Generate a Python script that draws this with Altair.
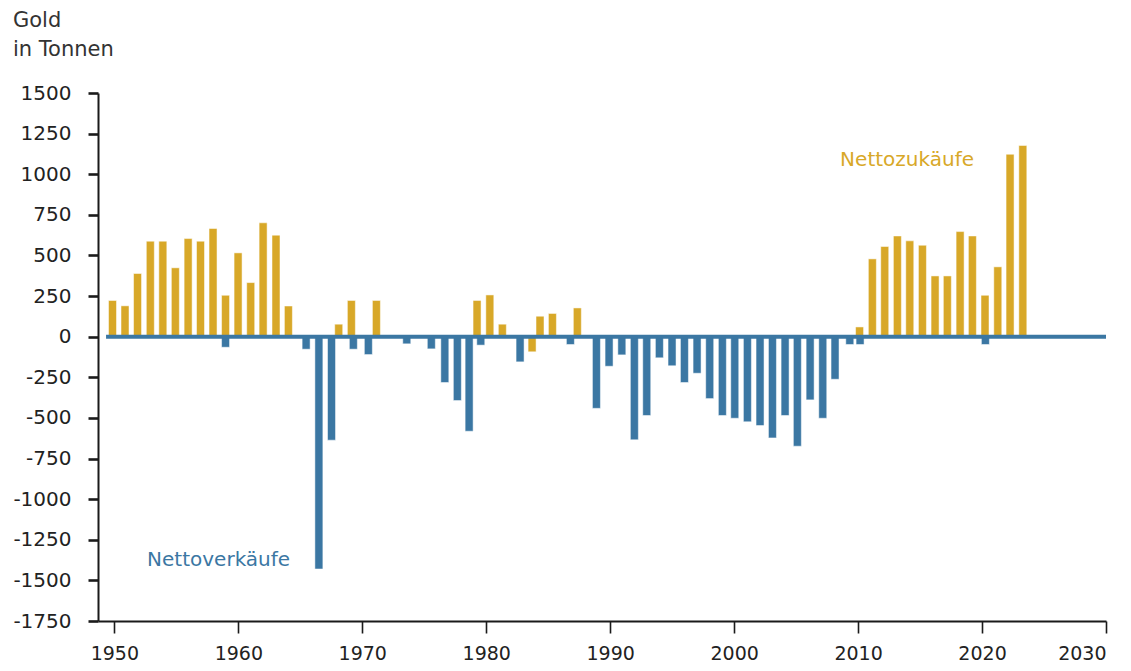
import altair as alt
import pandas as pd

# Positions in decimal years, values in tonnes
gold_t = [1949.85, 1950.86, 1951.87, 1952.90, 1953.91, 1954.92, 1955.95, 1956.95, 1957.96,
          1958.97, 1959.98, 1961.00, 1962.00, 1963.04, 1964.04, 1968.10, 1969.12, 1971.14,
          1979.26, 1980.29, 1981.30, 1983.70, 1984.34, 1985.34, 1987.35, 2010.12, 2011.15,
          2012.15, 2013.17, 2014.17, 2015.19, 2016.21, 2017.20, 2018.23, 2019.22, 2020.24,
          2021.27, 2022.26, 2023.29]
gold_v = [223, 190, 389, 588, 588, 424, 604, 588, 666, 255, 516, 333, 701, 625, 189,
          77, 223, 223, 223, 257, 77, -93, 126, 143, 177, 60, 479, 555, 620, 590, 563,
          374, 374, 647, 620, 255, 430, 1123, 1177]

blue_t = [1958.97, 1965.47, 1966.50, 1967.52, 1969.28, 1970.49, 1973.59, 1975.57, 1976.66,
          1977.67, 1978.62, 1979.56, 1982.73, 1986.79, 1988.89, 1989.91, 1990.94, 1991.95,
          1992.95, 1993.97, 1994.99, 1995.99, 1997.01, 1998.03, 1999.05, 2000.05, 2001.07,
          2002.09, 2003.09, 2004.11, 2005.10, 2006.13, 2007.15, 2008.14, 2009.33, 2010.16,
          2020.27]
blue_v = [-65, -77, -1430, -637, -77, -110, -44, -75, -282, -393, -582, -52, -155, -48,
          -441, -182, -112, -635, -485, -130, -179, -282, -225, -381, -485, -502, -524,
          -547, -623, -485, -674, -389, -502, -262, -48, -48, -48]

x_ticks = [1950, 1960, 1970, 1980, 1990, 2000, 2010, 2020, 2030]
y_ticks = list(range(-1750, 1501, 250))

labels = ["Nettozukäufe", "Nettoverkäufe"]
label_t = [2008.55, 1952.64]
label_v = [1086, -1375]

GOLD = "#D8A828"
BLUE = "#3B77A3"
FONT = "DejaVu Sans"

bars_df = pd.DataFrame({
    "t": gold_t + blue_t,
    "v": gold_v + blue_v,
    "s": ["gold"] * len(gold_t) + ["blue"] * len(blue_t),
})
zero_df = pd.DataFrame({"t": [1949.33], "t2": [2030], "v": [0]})
lab_df = pd.DataFrame({"label": labels, "t": label_t, "v": label_v, "s": ["gold", "blue"]})

xscale = alt.Scale(domain=[1948.68, 2030], nice=False, zero=False, padding=0)
yscale = alt.Scale(domain=[-1750, 1500], nice=False, padding=0)
cscale = alt.Scale(domain=["gold", "blue"], range=[GOLD, BLUE])

x_label_expr = "datum.value == 2030 ? '2030\u00a0' : '' + datum.value"

bars = alt.Chart(bars_df).mark_bar(
    size=8, stroke="white", strokeWidth=1, strokeOpacity=0.5
).encode(
    x=alt.X("t:Q", scale=xscale, title=None,
            axis=alt.Axis(values=x_ticks, labelExpr=x_label_expr, tickSize=12,
                          tickWidth=1.6, labelPadding=11, domainWidth=2, grid=False)),
    y=alt.Y("v:Q", scale=yscale, title=None,
            axis=alt.Axis(values=y_ticks, labelExpr="'' + datum.value", tickSize=10,
                          tickWidth=2.6, labelPadding=17, domainWidth=2, grid=False,
                          labelFontSize=20)),
    color=alt.Color("s:N", scale=cscale, legend=None),
)

zero = alt.Chart(zero_df).mark_rule(color=BLUE, strokeWidth=4).encode(
    x="t:Q", x2="t2:Q", y="v:Q"
)

text = alt.Chart(lab_df).mark_text(
    align="left", baseline="middle", fontSize=20, font=FONT
).encode(
    x="t:Q", y="v:Q", text="label:N",
    color=alt.Color("s:N", scale=cscale, legend=None),
)

chart = alt.layer(bars, zero, text).properties(
    width=1008, height=528,
    padding={"left": 90, "top": 85, "right": 17, "bottom": 41},
    autosize=alt.AutoSizeParams(type="none"),
    title=alt.TitleParams(
        ["Gold", "in Tonnen"], anchor="start", frame="group", orient="top",
        fontSize=21, font=FONT, fontWeight="normal", color="#333333",
        lineHeight=29, dx=-85, offset=23,
    ),
).configure_axis(
    labelFont=FONT, labelFontSize=19, labelColor="#222222",
    domainColor="#1a1a1a", tickColor="#1a1a1a",
).configure_view(stroke=None)

chart.save("out.html", embed_options={"renderer": "svg", "actions": False})
